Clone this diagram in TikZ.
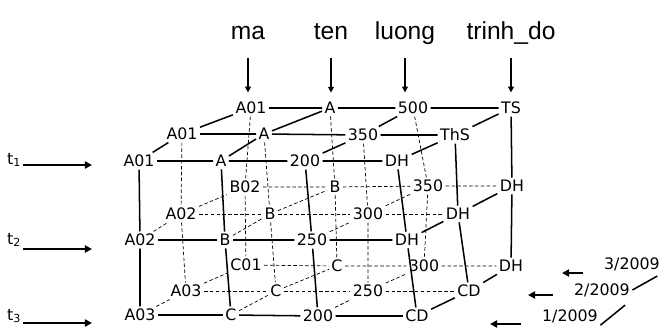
\documentclass[tikz,border=0pt]{standalone}
\usepackage{fontspec}
\setmainfont{DejaVu Sans}
\newfontfamily\headfont{Liberation Sans}
\usetikzlibrary{arrows.meta}
\tikzset{
  cell/.style={font=\fontsize{13.5}{15}\selectfont,inner sep=2pt},
  hdr/.style={font=\headfont\fontsize{21}{24}\selectfont,anchor=base,inner sep=0pt},
  edge/.style={line width=1.3pt},
  hidden/.style={line width=0.6pt,densely dashed},
  harr/.style={line width=1.2pt,-{Triangle[length=5pt,width=5pt]},shorten <=16pt,shorten >=6pt},
  tarr/.style={line width=1.8pt,-{Triangle[length=6pt,width=6pt]}},
  darr/.style={line width=2pt,-{Triangle[length=6pt,width=6pt]},shorten <=16pt},
}

\begin{document}
\begin{tikzpicture}[x=0.03cm,y=-0.03cm]
\useasboundingbox[fill=white] (0,0) rectangle (663,327);

% column names
\node[hdr] (hma) at (248,39) {ma};
\node[hdr] (hten) at (331,39) {ten};
\node[hdr] (hluong) at (405,39) {luong};
\node[hdr] (htrinh) at (511,39) {trinh\_do};

% back layer (3/2009)
\node[cell] (b11) at (251,108) {A01};
\node[cell] (b12) at (330,108) {A};
\node[cell] (b13) at (413,108) {500};
\node[cell] (b14) at (511,108) {TS};
\node[cell] (b21) at (245,187) {B02};
\node[cell] (b22) at (335,187) {B};
\node[cell] (b23) at (428,186) {350};
\node[cell] (b24) at (512,186) {DH};
\node[cell] (b31) at (246,265) {C01};
\node[cell] (b32) at (337,266) {C};
\node[cell] (b33) at (424,266) {300};
\node[cell] (b34) at (511,266) {DH};

% middle layer (2/2009)
\node[cell] (m11) at (182,134) {A01};
\node[cell] (m12) at (264,134) {A};
\node[cell] (m13) at (363,135) {350};
\node[cell] (m14) at (455,135) {ThS};
\node[cell] (m21) at (181,214) {A02};
\node[cell] (m22) at (270,214) {B};
\node[cell] (m23) at (368,214) {300};
\node[cell] (m24) at (458,214) {DH};
\node[cell] (m31) at (186,291) {A03};
\node[cell] (m32) at (276,291) {C};
\node[cell] (m33) at (368,291) {250};
\node[cell] (m34) at (469,291) {CD};

% front layer (1/2009)
\node[cell] (f11) at (139,161) {A01};
\node[cell] (f12) at (221,161) {A};
\node[cell] (f13) at (305,161) {200};
\node[cell] (f14) at (397,161) {DH};
\node[cell] (f21) at (140,240) {A02};
\node[cell] (f22) at (225,240) {B};
\node[cell] (f23) at (312,240) {250};
\node[cell] (f24) at (407,240) {DH};
\node[cell] (f31) at (140,315) {A03};
\node[cell] (f32) at (231,315) {C};
\node[cell] (f33) at (318,316) {200};
\node[cell] (f34) at (417,316) {CD};

% time labels
\node[cell] (t1) at (14,160) {t\textsubscript{1}};
\node[cell] (t2) at (14,240) {t\textsubscript{2}};
\node[cell] (t3) at (14,316) {t\textsubscript{3}};
\node[cell] (d3) at (632,264) {3/2009};
\node[cell] (d2) at (602,290) {2/2009};
\node[cell] (d1) at (570,316) {1/2009};

% hidden lines
\draw[hidden] (m21)--(m22)--(m23)--(m24) (m31)--(m32)--(m33)--(m34);
\draw[hidden] (b21)--(b22)--(b23)--(b24) (b31)--(b32)--(b33)--(b34);
\draw[hidden] (m11)--(m21)--(m31) (m12)--(m22)--(m32) (m13)--(m23)--(m33);
\draw[hidden] (b11)--(b21)--(b31) (b12)--(b22)--(b32) (b13)--(b23)--(b33);
\draw[hidden] (f21)--(m21)--(b21) (f22)--(m22)--(b22) (f23)--(m23)--(b23);
\draw[hidden] (f31)--(m31)--(b31) (f32)--(m32)--(b32) (f33)--(m33)--(b33);

% front face
\draw[edge] (f11)--(f12)--(f13)--(f14) (f21)--(f22)--(f23)--(f24) (f31)--(f32)--(f33)--(f34);
\draw[edge] (f11)--(f21)--(f31) (f12)--(f22)--(f32) (f13)--(f23)--(f33) (f14)--(f24)--(f34);
% top and right faces
\draw[edge] (m11)--(m12)--(m13)--(m14) (b11)--(b12)--(b13)--(b14);
\draw[edge] (m14)--(m24)--(m34) (b14)--(b24)--(b34);
\draw[edge] (f11)--(m11)--(b11) (f12)--(m12)--(b12) (f13)--(m13)--(b13) (f14)--(m14)--(b14);
\draw[edge] (f24)--(m24)--(b24) (f34)--(m34)--(b34);

% arrows
\draw[harr] (hma.base) -- (hma.base |- b11.north);
\draw[harr] (hten.base) -- (hten.base |- b12.north);
\draw[harr] (hluong.base) -- (hluong.base |- b13.north);
\draw[harr] (htrinh.base) -- (htrinh.base |- b14.north);

\coordinate (te1) at (92,165);
\coordinate (te2) at (92,249);
\coordinate (te3) at (92,323);
\draw[tarr] (t1.east |- te1) -- (te1);
\draw[tarr] (t2.east |- te2) -- (te2);
\draw[tarr] (t3.east |- te3) -- (te3);

\coordinate (de3) at (562,273);
\coordinate (de2) at (528,295);
\coordinate (de1) at (490,324);
\draw[darr] (d3.west |- de3) -- (de3);
\draw[darr] (d2.west |- de2) -- (de2);
\draw[darr] (d1.west |- de1) -- (de1);
\draw[edge,shorten >=8pt] (d1.south east) -- (d2.south east);
\draw[edge,shorten >=5pt] (d2.east) -- (d3.south east);
\end{tikzpicture}
\end{document}
